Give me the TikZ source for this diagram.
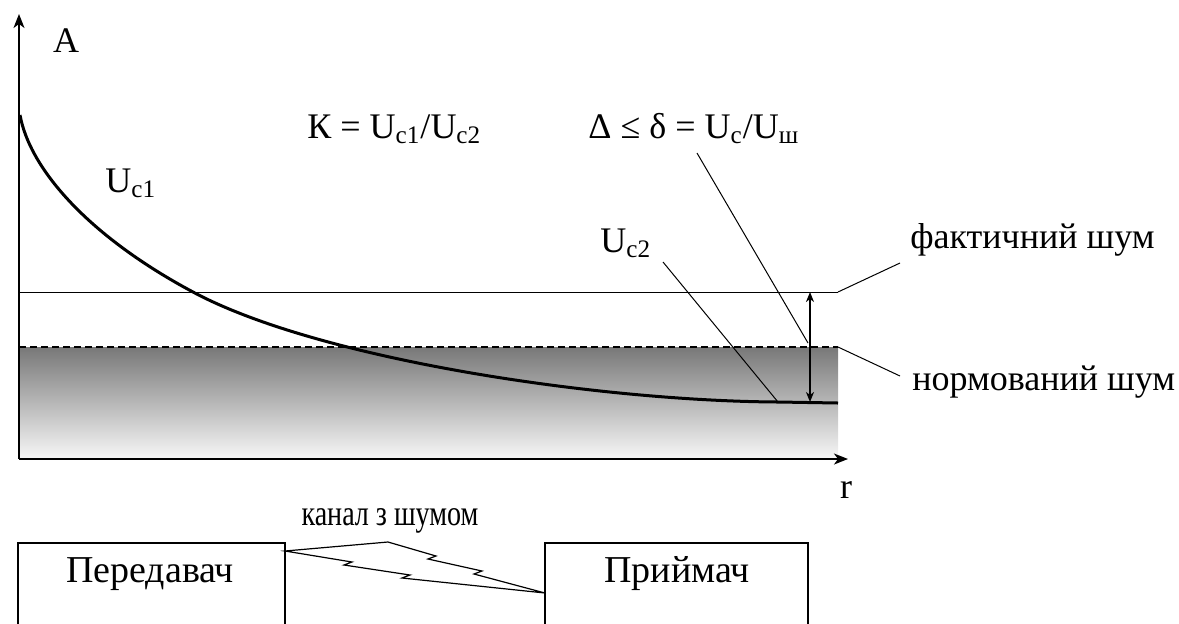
\documentclass[tikz,border=0pt]{standalone}
\usepackage{fontspec}
\setmainfont{Liberation Serif}
\usetikzlibrary{arrows.meta}
\begin{document}
\begin{tikzpicture}[x=0.5pt,y=-0.5pt,
  txt/.style={inner sep=0pt, font=\fontsize{18}{21}\selectfont},
  bigtxt/.style={inner sep=0pt, font=\fontsize{19}{22}\selectfont},
  axisline/.style={line width=0.75pt, -{Stealth[length=7pt,width=5.5pt,inset=2pt]}},
  thinline/.style={line width=0.5pt},
  curveline/.style={line width=1.5pt},
  boxline/.style={line width=0.75pt},
  dashline/.style={line width=0.8pt, dash pattern=on 3.5pt off 2pt},
  dimarrow/.style={line width=0.75pt, {Stealth[length=5pt,width=4pt,inset=1.5pt]}-{Stealth[length=5pt,width=4pt,inset=1.5pt]}}]
\useasboundingbox (0,0) rectangle (1179,623);
% gradient noise band
\shade[top color=black!53, bottom color=white!97!black] (19,347) rectangle (838,459);
% axes
\coordinate (O) at (19,459);
\coordinate (ytip) at (19,14);
\coordinate (xtip) at (848,459);
\draw[axisline] (O) -- (ytip);
\draw[axisline] (O) -- (xtip);
\node[txt, anchor=base] (lblA) at (66,52) {A};
\node[txt, anchor=base] (lblr) at (846,498) {r};
% noise levels
\coordinate (fL) at (19,292);
\coordinate (fR) at (838,292);
\coordinate (nL) at (19,347);
\coordinate (nR) at (838,347);
\draw[thinline] (fL) -- (fR);
\draw[dashline] (nL) -- (nR);
% signal curve
\draw[curveline] (20,115) .. controls (30,170) and (90,237) .. (193,292)
  .. controls (320,360) and (600,401) .. (778,402) -- (838,403);
% delta arrow
\coordinate (dTop) at (810,292);
\coordinate (dBot) at (810,402);
\draw[dimarrow] (dTop) -- (dBot);
% labels
\node[txt, anchor=base west] (uc1) at (105,192) {U\textsubscript{c1}};
\node[txt, anchor=base west] (kform) at (307,138) {К = U\textsubscript{c1}/U\textsubscript{c2}};
\node[txt, anchor=base west] (dform) at (588,138) {Δ ≤ δ = U\textsubscript{c}/U\textsubscript{ш}};
\node[txt, anchor=base west] (uc2) at (600,252) {U\textsubscript{c2}};
\node[txt, anchor=base west] (fakt) at (910,248) {фактичний шум};
\node[txt, anchor=base west] (norm) at (912,390) {нормований шум};
% leaders
\coordinate (dLead) at (808,343);
\coordinate (uLead) at (778,402);
\draw[thinline] (697,153) -- (dLead);
\draw[thinline] (663,262) -- (uLead);
\draw[thinline] (fR) -- (900,263);
\draw[thinline] (nR) -- (900,376);
% transmitter / receiver
\node[bigtxt, anchor=base] (tx) at (150,582) {Передавач};
\node[bigtxt, anchor=base] (rx) at (677,582) {Приймач};
\draw[boxline] (18,624) -- (18,543) -- (285,543) -- (285,624);
\draw[boxline] (545,624) -- (545,543) -- (808,543) -- (808,624);
\node[txt, anchor=base] (chan) at (390,525) {\scalebox{0.78}[1]{канал з шумом}};
% lightning bolt
\coordinate (S) at (285,551);
\coordinate (E) at (545,593);
\draw[line width=0.6pt, line join=miter] (S) -- (388,542) -- (436,556) -- (428,559) -- (482,571) -- (474,574) -- (E)
  -- (402,578) -- (410,575) -- (344,565) -- (352,562) -- cycle;
\end{tikzpicture}
\end{document}
